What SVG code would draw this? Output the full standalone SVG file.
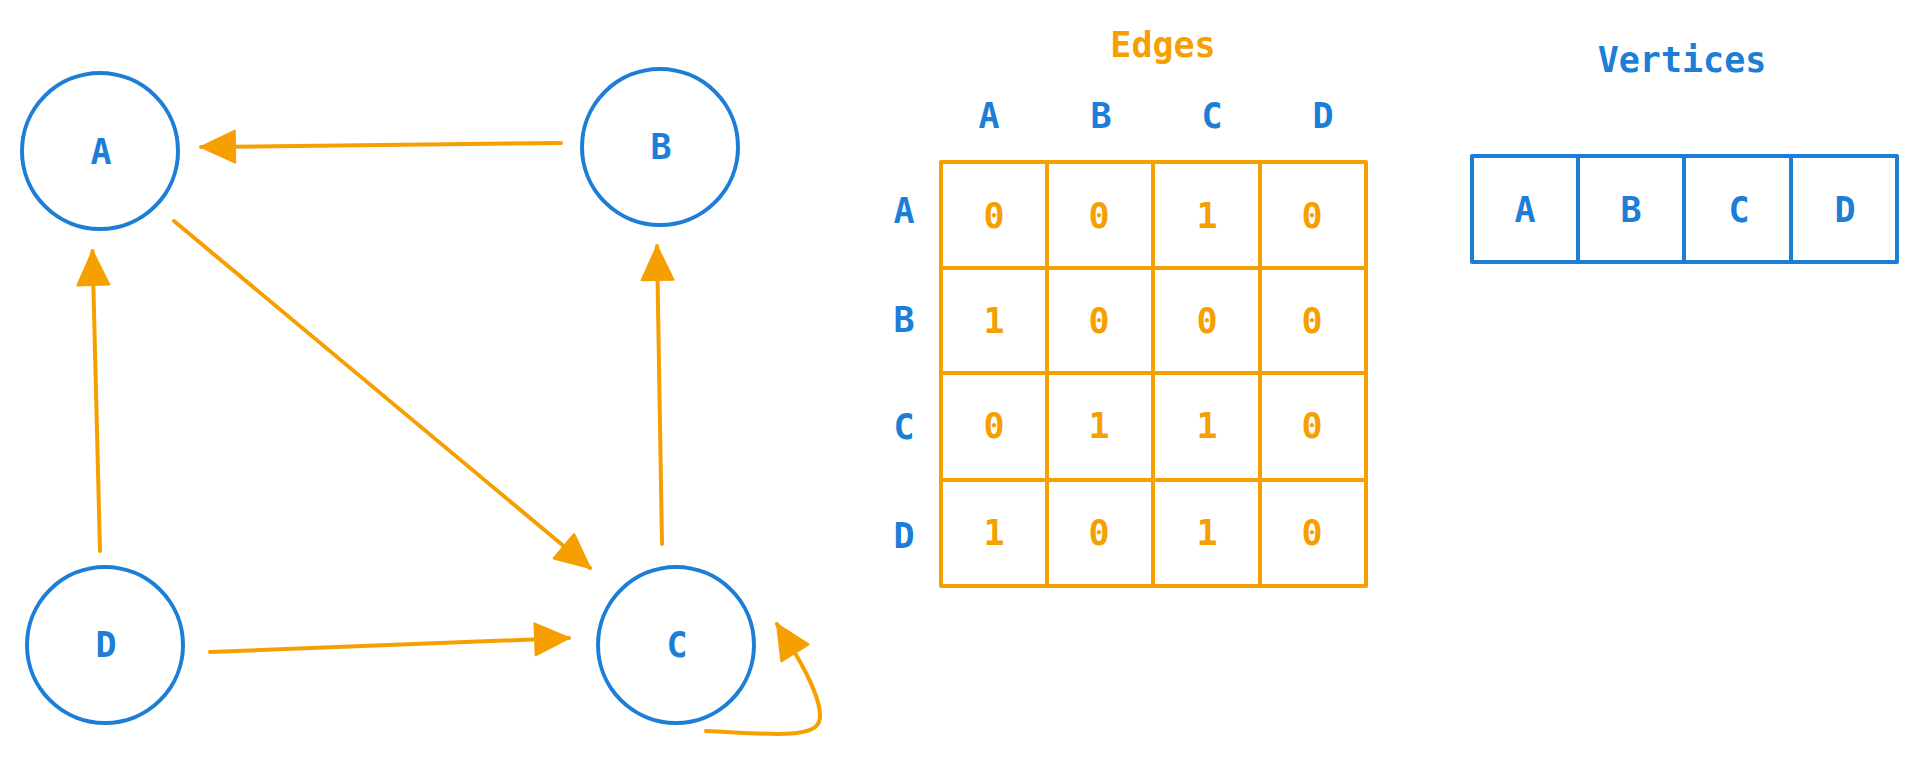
<svg xmlns="http://www.w3.org/2000/svg" width="1920" height="757" viewBox="0 0 1920 757">
<style>
.node{fill:none;stroke:#1c7ed6;stroke-width:4}
.lbl{font-family:"DejaVu Sans Mono","Liberation Mono",monospace;font-size:35px;font-weight:bold;text-anchor:middle}
.blue{fill:#1c7ed6}
.orange{fill:#f59f00}
.edge{fill:none;stroke:#f59f00;stroke-width:4;stroke-linecap:round;marker-end:url(#ah)}
.grid{fill:none;stroke:#f59f00;stroke-width:4;stroke-linejoin:round}
.vgrid{fill:none;stroke:#1c7ed6;stroke-width:4;stroke-linejoin:round}
</style>
<defs>
<marker id="ah" markerUnits="userSpaceOnUse" markerWidth="40" markerHeight="40" viewBox="-2 -2 40 36" refX="34" refY="16" orient="auto">
<path d="M0,0 L34,16 L0,32 Z" fill="#f59f00" stroke="#f59f00" stroke-width="2" stroke-linejoin="round"/>
</marker>
</defs>
<rect width="1920" height="757" fill="#ffffff"/>

<g id="connectors">
<line class="edge" x1="561" y1="143" x2="201" y2="147"/>
<line class="edge" x1="174" y1="221" x2="590" y2="568"/>
<line class="edge" x1="100" y1="551" x2="92.5" y2="251"/>
<line class="edge" x1="662" y1="544" x2="657" y2="246"/>
<line class="edge" x1="210" y1="652" x2="569" y2="638"/>
<path class="edge" d="M 706 731 C 760 733, 812 740, 819 722 C 824 707, 808 675, 795 653 L 777 624"/>
</g>

<g id="node-A"><circle class="node" cx="100" cy="151" r="78"/><text class="lbl blue" x="101" y="164">A</text></g>
<g id="node-B"><circle class="node" cx="660" cy="147" r="78"/><text class="lbl blue" x="661" y="159">B</text></g>
<g id="node-C"><circle class="node" cx="676" cy="645" r="78"/><text class="lbl blue" x="677" y="657">C</text></g>
<g id="node-D"><circle class="node" cx="105" cy="645" r="78"/><text class="lbl blue" x="106" y="657">D</text></g>

<g id="edges-matrix">
<text class="lbl orange" x="1163" y="57">Edges</text>
<text class="lbl blue" x="989" y="128">A</text>
<text class="lbl blue" x="1101" y="128">B</text>
<text class="lbl blue" x="1212" y="128">C</text>
<text class="lbl blue" x="1323" y="128">D</text>
<text class="lbl blue" x="904" y="223">A</text>
<text class="lbl blue" x="904" y="332">B</text>
<text class="lbl blue" x="904" y="439">C</text>
<text class="lbl blue" x="904" y="548">D</text>
<rect class="grid" x="941" y="162" width="425" height="424"/>
<path class="grid" d="M1047 162 V586 M1153 162 V586 M1260 162 V586 M941 268 H1366 M941 373 H1366 M941 480 H1366"/>
<g class="lbl orange">
<text x="994" y="228">0</text><text x="1099" y="228">0</text><text x="1207" y="228">1</text><text x="1312" y="228">0</text>
<text x="994" y="333">1</text><text x="1099" y="333">0</text><text x="1207" y="333">0</text><text x="1312" y="333">0</text>
<text x="994" y="438">0</text><text x="1099" y="438">1</text><text x="1207" y="438">1</text><text x="1312" y="438">0</text>
<text x="994" y="545">1</text><text x="1099" y="545">0</text><text x="1207" y="545">1</text><text x="1312" y="545">0</text>
</g>
</g>

<g id="vertices-array">
<text class="lbl blue" x="1682" y="72">Vertices</text>
<rect class="vgrid" x="1472" y="156" width="425" height="106"/>
<path class="vgrid" d="M1578 156 V262 M1684 156 V262 M1791 156 V262"/>
<text class="lbl blue" x="1525" y="222">A</text>
<text class="lbl blue" x="1631" y="222">B</text>
<text class="lbl blue" x="1739" y="222">C</text>
<text class="lbl blue" x="1845" y="222">D</text>
</g>
</svg>
